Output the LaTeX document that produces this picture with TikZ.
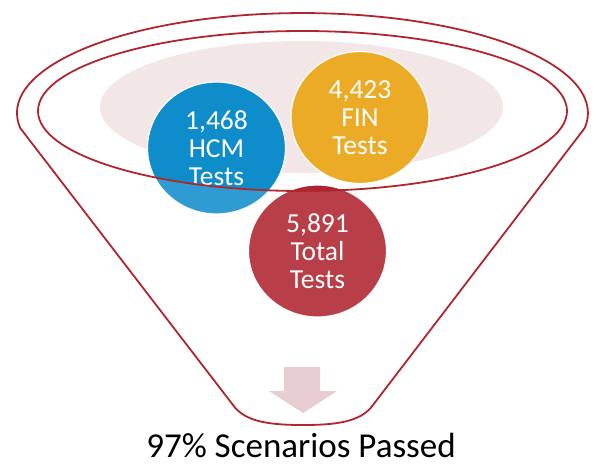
\documentclass[tikz,border=0pt]{standalone}
\usepackage{fontspec}
\setmainfont{Carlito}
\usetikzlibrary{shapes.geometric}
\definecolor{funred}{HTML}{B0262F}
\definecolor{pinkfill}{HTML}{F2E6E7}
\definecolor{arrowpink}{HTML}{E7CDD0}
\definecolor{bluedark}{HTML}{0F8DCB}
\definecolor{bluelight}{HTML}{2E9CD3}
\definecolor{orangefill}{HTML}{ECAB26}
\definecolor{reddark}{HTML}{AD232E}
\definecolor{redlight}{HTML}{B83E47}
\tikzset{
  outline/.style={draw=funred, line width=1.8pt},
  bubble/.style={ellipse, minimum width=138pt, minimum height=132pt, inner sep=0pt,
    draw=white, line width=1.2pt, text=white, align=center,
    font=\fontsize{27.5}{28}\selectfont},
  darkpart/.style={path picture={\fill[#1] (ec) ellipse [x radius=264.5, y radius=80];}}
}
\begin{document}
\begin{tikzpicture}[x=1pt,y=-1pt]
\useasboundingbox (0,0) rectangle (597,466);
\coordinate (ec) at (302.5,111);
% pink background ellipse
\fill[pinkfill] (301.5,107) ellipse [x radius=201.5, y radius=66];
% bubbles
\node[bubble, fill=bluelight, darkpart=bluedark] (hcm) at (216.5,148) {1,468\\HCM\\Tests};
\node[bubble, fill=orangefill] (fin) at (360,117.5) {4,423\\FIN\\Tests};
\node[bubble, fill=redlight, darkpart=reddark] (total) at (317.5,251) {5,891\\Total\\Tests};
% inner rim
\draw[outline] (ec) ellipse [x radius=264.5, y radius=80];
% funnel outline
\draw[outline, line join=round] (20.2,128) arc[start angle=171.4, end angle=368.6, x radius=285.5, y radius=100]
  -- (373,405) .. controls (361,422) and (336,425) .. (303,425)
  .. controls (270,425) and (245,422) .. (233,405) -- cycle;
% down arrow
\fill[arrowpink] (284,367) -- (320,367) -- (320,391) -- (337,391) -- (303,413) -- (269,391) -- (284,391) -- cycle;
% caption
\node[anchor=base, font=\fontsize{35}{38}\selectfont, inner sep=0pt] (caption) at (301,457.5) {97\% Scenarios Passed};
\end{tikzpicture}
\end{document}
